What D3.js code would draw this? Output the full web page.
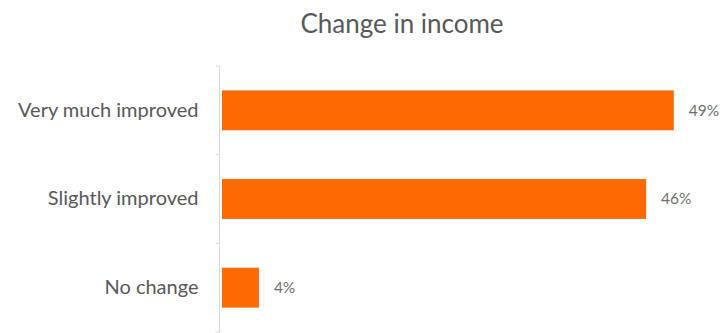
<!DOCTYPE html>
<html>
<head>
<meta charset="utf-8">
<script src="https://cdn.jsdelivr.net/npm/d3@7"></script>
<style>
  html, body { margin: 0; padding: 0; background: #ffffff; }
  svg { display: block; font-family: Lato, "Open Sans", sans-serif; }
</style>
</head>
<body>
<svg id="chart" width="726" height="333"></svg>
<script>
// Share of respondents by change in income
const categories = ["Very much improved", "Slightly improved", "No change"];
const values = [49, 46, 4];
const valueLabels = ["49%", "46%", "4%"];
const chartTitle = "Change in income";

const svg = d3.select("#chart");
const axisX = 219.5;

const x = d3.scaleLinear().domain([0, 50]).range([222, 683]);
const y = d3.scaleBand().domain(categories).range([66, 332]).paddingInner(0.55).paddingOuter(0.275);

// title
svg.append("text")
  .attr("x", 402)
  .attr("y", 33)
  .attr("text-anchor", "middle")
  .attr("fill", "#595959")
  .style("font-size", "26px")
  .text(chartTitle);

// bars
svg.append("g").selectAll("rect")
  .data(categories)
  .join("rect")
  .attr("x", x(0))
  .attr("y", d => y(d))
  .attr("width", (d, i) => x(values[i]) - x(0))
  .attr("height", y.bandwidth())
  .attr("fill", "#ff6a00");

// value labels
svg.append("g").selectAll("text")
  .data(categories)
  .join("text")
  .attr("x", (d, i) => x(values[i]) + 15)
  .attr("y", d => y(d) + y.bandwidth() / 2)
  .attr("dy", "0.35em")
  .attr("fill", "#707070")
  .style("font-size", "15.5px")
  .text((d, i) => valueLabels[i]);

// category axis
const axis = svg.append("g")
  .attr("transform", `translate(${axisX},0)`)
  .call(d3.axisLeft(y).tickSize(0).tickPadding(21));
axis.select(".domain").remove();
axis.selectAll("text")
  .attr("fill", "#595959")
  .style("font-size", "20px")
  .style("font-family", "Lato, 'Open Sans', sans-serif");

// axis line with ticks at band boundaries
const [r0, r1] = y.range();
axis.append("line")
  .attr("x1", 0).attr("x2", 0)
  .attr("y1", r0).attr("y2", r1)
  .attr("stroke", "#d9d9d9")
  .attr("stroke-width", 1);
const bounds = [r0].concat(categories.slice(1).map(c => y(c) - y.step() * y.paddingInner() / 2), [r1]);
axis.selectAll(".bound")
  .data(bounds)
  .join("line")
  .attr("class", "bound")
  .attr("x1", -4).attr("x2", 0)
  .attr("y1", d => d).attr("y2", d => d)
  .attr("stroke", "#d9d9d9")
  .attr("stroke-width", 1);
</script>
</body>
</html>
